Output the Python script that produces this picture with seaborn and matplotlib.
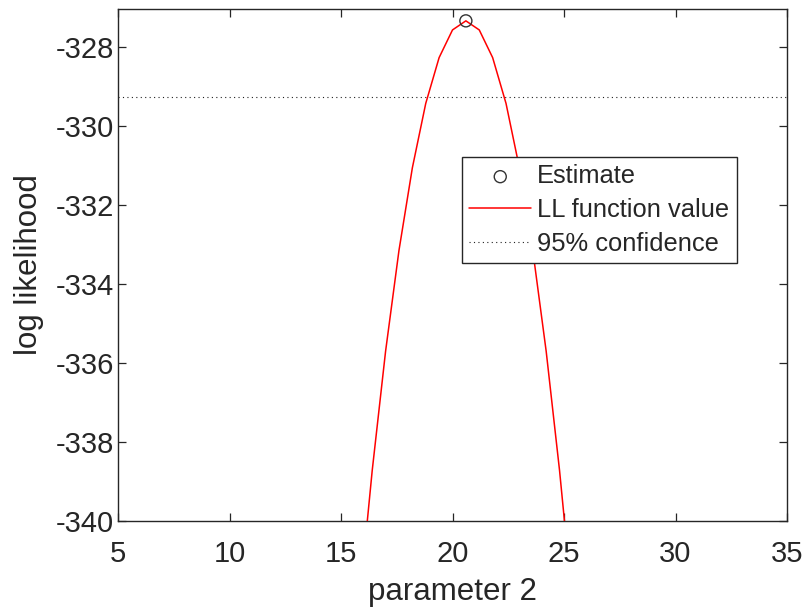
import matplotlib
matplotlib.use("Agg")
import matplotlib.pyplot as plt
import seaborn as sns
import pandas as pd

# Profile log-likelihood for parameter 2
param2 = [15.8, 16.4, 17.0, 17.6, 18.2, 18.8, 19.4, 20.0, 20.6,
          21.2, 21.8, 22.4, 23.0, 23.6, 24.2, 24.8, 25.4]
loglik = [-342.20, -338.72, -335.70, -333.15, -331.06, -329.43, -328.27, -327.57, -327.34,
          -327.57, -328.27, -329.43, -331.06, -333.15, -335.70, -338.72, -342.20]

# Maximum-likelihood estimate and 95% confidence threshold
est_x = [20.6]
est_y = [-327.34]
conf_level = -329.26

x_ticks = [5, 10, 15, 20, 25, 30, 35]
y_ticks = [-340, -338, -336, -334, -332, -330, -328]

sns.set_theme(style="white")
plt.rcParams["font.family"] = ["Liberation Sans", "DejaVu Sans"]
dark = "#262626"
plt.rcParams.update({
    "text.color": dark, "axes.labelcolor": dark,
    "xtick.color": dark, "ytick.color": dark, "axes.edgecolor": dark,
    "axes.unicode_minus": False,
})

fig = plt.figure(figsize=(8.07, 6.09), dpi=100)
ax = fig.add_axes([118 / 807, 1 - 521 / 609, 669 / 807, 512 / 609])

curve = pd.DataFrame({"x": param2, "y": loglik})
est = pd.DataFrame({"x": est_x, "y": est_y})

sns.scatterplot(data=est, x="x", y="y", ax=ax, marker="o", s=75,
                facecolors="none", edgecolor="#333333", linewidth=1.0,
                label="Estimate", zorder=4)
sns.lineplot(data=curve, x="x", y="y", ax=ax, color="#ff0000", linewidth=1.1,
             label="LL function value", sort=False, zorder=3)
ax.axhline(conf_level, color="#222222", linewidth=0.8, dashes=(1, 3),
           label="95% confidence", zorder=2)

ax.set_xlim(5, 35)
ax.set_ylim(-340, -327.04)
ax.set_xticks(x_ticks)
ax.set_yticks(y_ticks)
ax.set_xlabel("parameter 2", fontsize=22.5, labelpad=6.5)
ax.set_ylabel("log likelihood", fontsize=22.5, labelpad=8)
ax.tick_params(axis="both", which="both", direction="in", length=6, width=0.9,
               labelsize=21, top=True, right=True, bottom=True, left=True)
ax.tick_params(axis="x", pad=14)
ax.tick_params(axis="y", pad=3)
for sp in ax.spines.values():
    sp.set_visible(True)
    sp.set_linewidth(1.0)
    sp.set_color(dark)

leg = ax.legend(loc="upper left", bbox_to_anchor=(0.5137, 0.7115), borderaxespad=0,
                fontsize=18.4, frameon=True, fancybox=False, framealpha=1,
                handlelength=2.42, handletextpad=0.23, labelspacing=0.38,
                borderpad=0.3, edgecolor=dark)
leg.get_frame().set_linewidth(1.0)

fig.savefig("out.png", dpi=100)
